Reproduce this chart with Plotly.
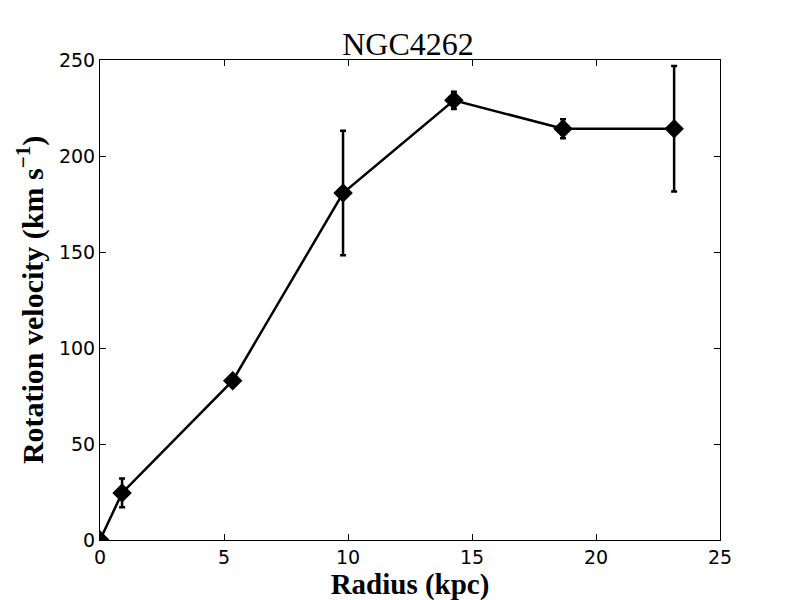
import plotly.graph_objects as go

radius = [0.0, 0.89, 5.35, 9.8, 14.27, 18.67, 23.15]
velocity = [0.0, 24.5, 83.0, 180.7, 229.0, 214.2, 214.2]
v_err = [0.0, 7.5, 2.0, 32.4, 4.5, 5.0, 32.7]

title_text = "NGC4262"
x_label = "Radius (kpc)"
y_label = "Rotation velocity (km s<sup>−1</sup>)"

fig = go.Figure()
fig.add_trace(go.Scatter(
    x=radius, y=velocity,
    mode="lines+markers",
    line=dict(color="black", width=2.5),
    marker=dict(symbol="diamond", size=15, color="black"),
    error_y=dict(type="data", array=v_err, visible=True, color="black", thickness=2.5, width=3),
    cliponaxis=True,
    showlegend=False,
))

axis_common = dict(
    showgrid=False, zeroline=False, showline=True, linecolor="black", linewidth=1,
    mirror="ticks", ticks="inside", ticklen=6, tickcolor="black", tickwidth=1,
    tickfont=dict(family="DejaVu Sans", size=19, color="black"),
)

fig.update_layout(
    width=800, height=600,
    paper_bgcolor="white", plot_bgcolor="white",
    margin=dict(l=92, r=88, t=52, b=68),
    title=dict(text=title_text, x=0.5, xanchor="center", y=0.94, yanchor="middle",
               font=dict(family="Liberation Serif", size=32, color="black")),
    xaxis=dict(range=[0, 25], tickvals=[0, 5, 10, 15, 20, 25],
               title=dict(text="<b>" + x_label + "</b>", standoff=6,
                          font=dict(family="Liberation Serif", size=29, color="black")),
               **axis_common),
    yaxis=dict(range=[0, 250], tickvals=[0, 50, 100, 150, 200, 250],
               title=dict(text="<b>" + y_label + "</b>", standoff=6,
                          font=dict(family="Liberation Serif", size=30, color="black")),
               **axis_common),
)

fig.write_html("out.html")
